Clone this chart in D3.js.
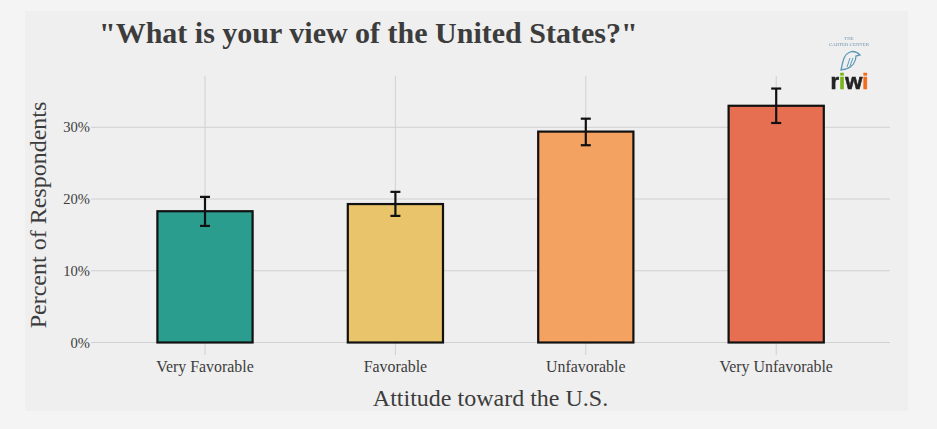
<!DOCTYPE html>
<html><head><meta charset="utf-8">
<script src="https://cdnjs.cloudflare.com/ajax/libs/d3/7.8.5/d3.min.js"></script>
<style>html,body{margin:0;padding:0;background:#f4f4f4;overflow:hidden}svg{display:block}
text{font-family:"Liberation Serif",serif}</style></head><body><div id="c"></div>
<script>
const categories=["Very Favorable","Favorable","Unfavorable","Very Unfavorable"];
const values=[18.3,19.3,29.4,33.0];
const errLow=[16.25,17.65,27.5,30.6];
const errHigh=[20.3,21.0,31.2,35.4];
const colors=["#2a9d8f","#e9c46a","#f4a261","#e76f51"];
const yTicks=[0,10,20,30];
const W=937,H=429;
const svg=d3.select("#c").append("svg").attr("width",W).attr("height",H);
svg.append("rect").attr("x",25).attr("y",11).attr("width",883).attr("height",400).attr("fill","#efefef");
const y=d3.scaleLinear().domain([0,37.15]).range([342.5,76]);
const x=d3.scaleBand().domain(categories).range([109.8,871.4]).paddingInner(.5).paddingOuter(.25);
const L=91,R=890,grid="#d0d0d0",ink="#3c3c3c";
const g=svg.append("g");
g.selectAll(".v").data(categories).join("line").attr("x1",d=>x(d)+x.bandwidth()/2).attr("x2",d=>x(d)+x.bandwidth()/2)
 .attr("y1",76).attr("y2",355).attr("stroke",grid).attr("stroke-width",1);
g.selectAll(".h").data(yTicks).join("line").attr("x1",L).attr("x2",R).attr("y1",d=>y(d)).attr("y2",d=>y(d)).attr("stroke",grid).attr("stroke-width",1);
g.selectAll(".yl").data(yTicks).join("text").attr("x",90).attr("y",d=>y(d)+5).attr("text-anchor","end")
 .attr("font-size",14.6).attr("fill",ink).text(d=>d+"%");
g.selectAll(".xl").data(categories).join("text").attr("x",d=>x(d)+x.bandwidth()/2).attr("y",372).attr("text-anchor","middle")
 .attr("font-size",15.9).attr("fill",ink).text(d=>d);
g.selectAll(".bar").data(categories).join("rect").attr("x",d=>x(d)).attr("width",x.bandwidth())
 .attr("y",(d,i)=>y(values[i])).attr("height",(d,i)=>y(0)-y(values[i]))
 .attr("fill",(d,i)=>colors[i]).attr("stroke","#111").attr("stroke-width",2.2);
const e=g.selectAll(".err").data(categories).join("g").attr("stroke","#111").attr("stroke-width",2.2);
const cx=d=>x(d)+x.bandwidth()/2;
e.append("line").attr("x1",cx).attr("x2",cx).attr("y1",(d,i)=>y(errLow[i])).attr("y2",(d,i)=>y(errHigh[i]));
e.append("line").attr("x1",d=>cx(d)-5).attr("x2",d=>cx(d)+5).attr("y1",(d,i)=>y(errLow[i])).attr("y2",(d,i)=>y(errLow[i]));
e.append("line").attr("x1",d=>cx(d)-5).attr("x2",d=>cx(d)+5).attr("y1",(d,i)=>y(errHigh[i])).attr("y2",(d,i)=>y(errHigh[i]));
svg.append("text").attr("x",99).attr("y",43).attr("font-size",30).attr("font-weight","bold").attr("fill",ink).text('"What is your view of the United States?"');
svg.append("text").attr("x",490.5).attr("y",406).attr("text-anchor","middle").attr("font-size",24).attr("fill",ink).text("Attitude toward the U.S.");
svg.append("text").attr("transform","translate(46,215) rotate(-90)").attr("text-anchor","middle").attr("font-size",24).attr("fill",ink).text("Percent of Respondents");
// logo
svg.append("filter").attr("id","soft").append("feGaussianBlur").attr("stdDeviation",0.35);
const lg=svg.append("g").attr("filter","url(#soft)");
lg.append("text").attr("x",849).attr("y",40).attr("text-anchor","middle").attr("font-size",4.8).attr("fill","#6f93ab").text("THE");
lg.append("text").attr("x",849).attr("y",45.5).attr("text-anchor","middle").attr("font-size",5).attr("fill","#6f93ab").text("CARTER CENTER");
lg.append("path").attr("d","M841 70 C843 62 843 55 850 52 C853 51 857 52 860 55 L856 56 C856 62 852 67 846 69 Z").attr("fill","none").attr("stroke","#5b98b8").attr("stroke-width",1.3);
lg.append("path").attr("d","M847 67 L850 58 M850 66 L853 58").attr("fill","none").attr("stroke","#5b98b8").attr("stroke-width",1);
const riwi=lg.append("text").attr("x",849.5).attr("y",88.5).attr("text-anchor","middle").attr("font-size",22).attr("font-weight","bold").attr("stroke-width",.6).style("font-family","'Liberation Sans',sans-serif");
[["r","#222"],["i","#7ab51d"],["w","#222"],["i","#f26a1b"]].forEach(([t,c])=>riwi.append("tspan").attr("fill",c).attr("stroke",c).text(t));
</script></body></html>
